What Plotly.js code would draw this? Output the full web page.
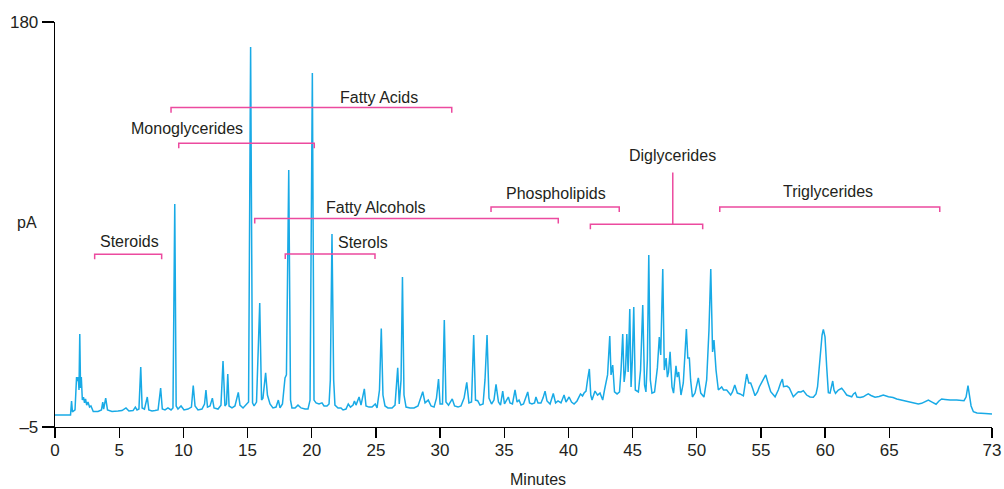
<!DOCTYPE html>
<html>
<head>
<meta charset="utf-8">
<script src="https://cdn.plot.ly/plotly-3.0.1.min.js"></script>
<style>html,body{margin:0;padding:0;background:#fff;}#chart{width:1004px;height:489px;}</style>
</head>
<body>
<div id="chart"></div>
<script>
// Retention time (minutes)
const time = [
0,1.21,1.29,1.36,1.56,1.68,1.74,1.81,1.87,1.93,
1.99,2.05,2.13,2.22,2.30,2.38,2.47,2.57,2.69,2.80,
2.98,3.35,3.62,3.72,3.79,3.95,4.09,4.44,4.91,5.22,
5.53,5.76,6.08,6.26,6.39,6.54,6.68,6.79,6.97,7.19,
7.31,7.56,7.79,8.03,8.23,8.36,8.57,8.80,9.04,9.19,
9.33,9.44,9.58,9.82,10.05,10.36,10.63,10.77,10.91,11.14,
11.45,11.65,11.76,11.88,12.08,12.26,12.39,12.70,12.93,13.09,
13.24,13.36,13.46,13.56,13.79,14.02,14.28,14.41,14.65,14.88,
15.08,15.24,15.39,15.51,15.70,15.95,16.09,16.20,16.41,16.55,
16.75,16.98,17.22,17.40,17.53,17.72,17.92,18.03,18.21,18.35,
18.46,18.70,18.93,19.17,19.48,19.71,19.87,20.05,20.18,20.34,
20.57,20.80,20.96,21.19,21.35,21.45,21.58,21.71,21.81,22.05,
22.28,22.44,22.67,22.85,23.02,23.22,23.33,23.45,23.69,23.84,
24.10,24.23,24.46,24.70,24.95,25.09,25.28,25.42,25.55,25.71,
25.94,26.26,26.49,26.70,26.82,26.96,27.07,27.19,27.35,27.66,
27.97,28.28,28.65,28.83,29.08,29.30,29.53,29.72,29.88,30.00,
30.19,30.33,30.46,30.66,30.95,31.13,31.40,31.63,31.87,32.08,
32.25,32.45,32.62,32.76,32.93,33.11,33.35,33.50,33.66,33.81,
34.01,34.20,34.36,34.55,34.71,34.88,35.02,35.18,35.32,35.45,
35.64,35.84,36.00,36.15,36.31,36.50,36.70,36.83,36.97,37.16,
37.36,37.47,37.63,37.86,38.02,38.18,38.33,38.57,38.82,39.00,
39.19,39.42,39.66,39.81,40.05,40.24,40.44,40.67,40.94,41.10,
41.22,41.37,41.49,41.63,41.74,41.84,42.07,42.27,42.46,42.67,
42.81,42.93,43.05,43.22,43.32,43.45,43.59,43.79,43.98,44.10,
44.23,44.34,44.45,44.55,44.65,44.78,44.88,44.98,45.09,45.21,
45.45,45.62,45.79,45.93,46.04,46.15,46.26,46.38,46.51,46.71,
46.93,47.08,47.19,47.35,47.47,47.61,47.71,47.80,47.92,48.07,
48.19,48.38,48.48,48.59,48.77,48.95,49.07,49.19,49.30,49.42,
49.52,49.66,49.86,50.12,50.31,50.56,50.77,50.95,51.09,51.23,
51.34,51.50,51.68,51.94,52.08,52.33,52.64,52.78,52.96,53.16,
53.37,53.63,53.76,53.89,54.05,54.20,54.34,54.54,54.73,54.87,
55.08,55.37,55.55,55.76,56.10,56.35,56.53,56.67,56.76,56.87,
57.03,57.21,57.52,57.73,57.91,58.12,58.30,58.56,58.82,59.08,
59.29,59.41,59.52,59.66,59.76,59.86,59.99,60.12,60.25,60.38,
60.50,60.59,60.69,60.81,61.03,61.29,61.47,61.68,62.07,62.21,
62.35,62.48,62.72,62.97,63.18,63.36,63.57,63.89,64.20,64.53,
64.93,65.29,65.58,65.91,66.36,66.77,67.26,67.52,67.78,68.04,
68.33,68.64,68.87,69.08,69.34,69.73,70.25,70.59,70.82,70.98,
71.13,71.25,71.37,71.55,71.83,72.46,73.00
];

// Detector signal (pA)
const signal = [
0.5,0.5,6.9,1.9,2.8,17.8,16.0,17.8,11.9,37.5,
12.8,17.8,7.3,8.7,6.0,7.8,5.0,6.4,4.1,4.6,
2.1,2.1,2.8,6.4,3.2,8.2,2.8,2.1,2.3,2.5,
3.7,2.3,2.5,4.1,2.8,3.2,22.4,3.7,3.2,8.7,
2.8,2.3,2.5,2.8,12.8,3.2,2.8,3.7,2.8,3.7,
96.9,4.6,3.2,4.6,2.8,3.2,4.1,13.9,4.6,2.8,
3.2,5.5,11.9,4.1,4.6,8.2,3.7,3.2,5.0,25.1,
4.6,5.5,19.2,4.6,3.7,4.6,10.8,5.0,3.7,5.0,
6.4,168.6,6.0,4.6,6.4,51.6,7.3,8.2,19.7,9.6,
5.5,3.7,4.1,7.3,3.7,5.5,17.4,18.8,112.4,7.3,
3.7,3.7,5.0,3.7,3.2,3.2,7.3,156.7,7.3,6.0,
5.5,6.0,4.6,4.6,5.5,16.5,83.2,16.5,5.0,3.7,
3.7,2.8,3.2,5.5,4.1,5.0,6.9,5.0,8.7,5.0,
12.4,4.6,4.1,4.1,5.5,3.7,11.9,40.0,9.6,4.6,
3.7,3.7,5.0,22.0,5.5,16.5,63.5,9.6,4.1,3.7,
3.7,4.6,11.1,6.0,7.3,4.6,4.1,8.2,16.9,5.5,
5.5,43.9,6.4,5.0,7.8,4.6,4.1,4.6,8.2,15.4,
6.0,6.4,37.0,7.3,7.0,5.0,5.5,16.5,37.0,8.2,
5.5,7.3,14.5,6.4,5.0,11.4,5.5,7.3,8.7,6.0,
5.5,11.9,6.4,7.3,5.0,5.5,8.7,11.0,6.0,5.5,
6.0,8.7,6.0,6.0,8.2,11.4,6.9,5.5,10.3,6.0,
6.9,6.0,9.6,6.4,8.7,6.4,5.5,6.9,10.1,9.2,
10.5,11.4,16.5,21.5,9.6,7.3,11.4,9.6,10.5,7.3,
11.9,15.1,18.8,36.6,18.8,23.3,11.0,10.1,11.0,21.0,
37.5,15.6,21.0,37.5,20.1,48.9,13.3,25.6,49.8,11.9,
11.0,21.0,50.7,14.2,11.0,25.6,73.6,16.5,10.5,11.0,
22.0,36.1,27.9,67.2,21.0,26.5,17.8,20.1,29.3,13.3,
10.5,22.9,17.8,20.1,9.6,15.1,25.6,39.8,26.5,26.5,
16.5,8.7,10.5,17.4,10.5,8.7,16.5,39.3,67.2,29.3,
34.7,21.0,11.9,13.3,11.9,11.9,9.6,11.0,14.2,10.5,
10.1,9.2,14.2,19.2,15.1,15.1,12.8,9.3,11.0,13.3,
15.6,18.8,15.1,11.1,8.8,11.9,15.1,16.9,13.4,13.4,
13.7,12.8,8.8,10.1,11.1,11.0,11.6,9.6,8.7,8.6,
10.1,13.4,21.0,31.7,37.0,39.6,36.2,22.5,10.7,10.5,
14.2,16.0,11.9,10.4,11.9,12.7,11.4,9.6,8.8,10.1,
10.7,8.7,8.5,8.8,9.6,10.1,9.4,8.6,8.9,9.6,
8.8,8.5,7.8,7.3,6.6,6.0,5.5,5.8,6.6,7.3,
6.4,5.4,6.9,7.8,7.6,7.3,7.3,7.1,7.0,8.7,
13.9,9.2,4.6,2.0,1.4,1.2,0.9
];

// Compound class groups (elution windows, minutes; bracket level, pA)
const groupNames = ["Steroids","Monoglycerides","Fatty Acids","Fatty Alcohols","Sterols","Phospholipids","Diglycerides","Triglycerides"];
const groupStart = [3.09, 9.64, 9.04, 15.56, 17.94, 33.97, 41.71, 51.79];
const groupEnd   = [8.31, 20.20, 30.91, 39.21, 24.93, 43.96, 50.46, 68.93];
const groupLevel = [73.9, 124.6, 140.9, 90.2, 74.0, 95.5, 87.6, 95.5];
const labelX     = [5.77, 10.28, 25.24, 25.03, 23.96, 39.06, 48.13, 60.19];
const labelY     = [79.6, 131.4, 145.6, 95.2, 79.2, 101.8, 118.8, 102.8];
const stemTop    = [null, null, null, null, null, null, 111.3, null];

// Axis ticks
const xTickVals = [0,5,10,15,20,25,30,35,40,45,50,55,60,65,73];
const xTickText = ["0","5","10","15","20","25","30","35","40","45","50","55","60","65","73"];
const yTickVals = [-5, 180];
const yTickText = ["\u20135", "180"];

const FONT = "Liberation Sans, Arial, Helvetica, sans-serif";
const PINK = "#ec4a9f";
const TXT = "#231f20";
const tickDrop = 2.3;

const shapes = [];
const annotations = [];
for (let i = 0; i < groupNames.length; i++) {
  const x0 = groupStart[i], x1 = groupEnd[i], y = groupLevel[i];
  shapes.push({
    type: "path", xref: "x", yref: "y",
    path: `M ${x0},${y - tickDrop} L ${x0},${y} L ${x1},${y} L ${x1},${y - tickDrop}`,
    line: {color: PINK, width: 1.5}
  });
  if (stemTop[i] !== null) {
    shapes.push({type: "line", xref: "x", yref: "y", x0: labelX[i], x1: labelX[i], y0: y, y1: stemTop[i],
      line: {color: PINK, width: 1.5}});
  }
  annotations.push({
    x: labelX[i], y: labelY[i], xref: "x", yref: "y", text: groupNames[i], showarrow: false,
    xanchor: "center", yanchor: "middle", font: {family: FONT, size: 16, color: TXT}
  });
}
annotations.push({x: -0.03, y: 88.6, xref: "paper", yref: "y", text: "pA", showarrow: false,
  xanchor: "center", yanchor: "middle", font: {family: FONT, size: 16, color: TXT}});
annotations.push({x: 0.515, y: 0, xref: "paper", yref: "paper", yshift: -52, text: "Minutes", showarrow: false,
  xanchor: "center", yanchor: "middle", font: {family: FONT, size: 16, color: TXT}});

const trace = {
  x: time, y: signal, type: "scatter", mode: "lines",
  line: {color: "#18aae6", width: 1.5, shape: "linear"},
  hoverinfo: "skip"
};

const layout = {
  width: 1004, height: 489,
  margin: {l: 55, r: 12, t: 22, b: 62, pad: 0},
  paper_bgcolor: "#fff", plot_bgcolor: "#fff",
  showlegend: false,
  font: {family: FONT, size: 16, color: TXT},
  xaxis: {
    range: [0, 73], tickmode: "array", tickvals: xTickVals, ticktext: xTickText,
    showgrid: false, zeroline: false, showline: true, linecolor: "#000", linewidth: 1.3,
    ticks: "outside", ticklen: 10, tickwidth: 1.3, tickcolor: "#000", ticklabelstandoff: -3,
    tickfont: {family: FONT, size: 17, color: TXT}, fixedrange: true
  },
  yaxis: {
    range: [-5, 180], tickmode: "array", tickvals: yTickVals, ticktext: yTickText,
    showgrid: false, zeroline: false, showline: true, linecolor: "#000", linewidth: 1.3,
    ticks: "outside", ticklen: 12, tickwidth: 1.3, tickcolor: "#000",
    tickfont: {family: FONT, size: 17, color: TXT}, fixedrange: true
  },
  shapes: shapes,
  annotations: annotations
};

Plotly.newPlot("chart", [trace], layout, {displayModeBar: false, staticPlot: true});
</script>
</body>
</html>
